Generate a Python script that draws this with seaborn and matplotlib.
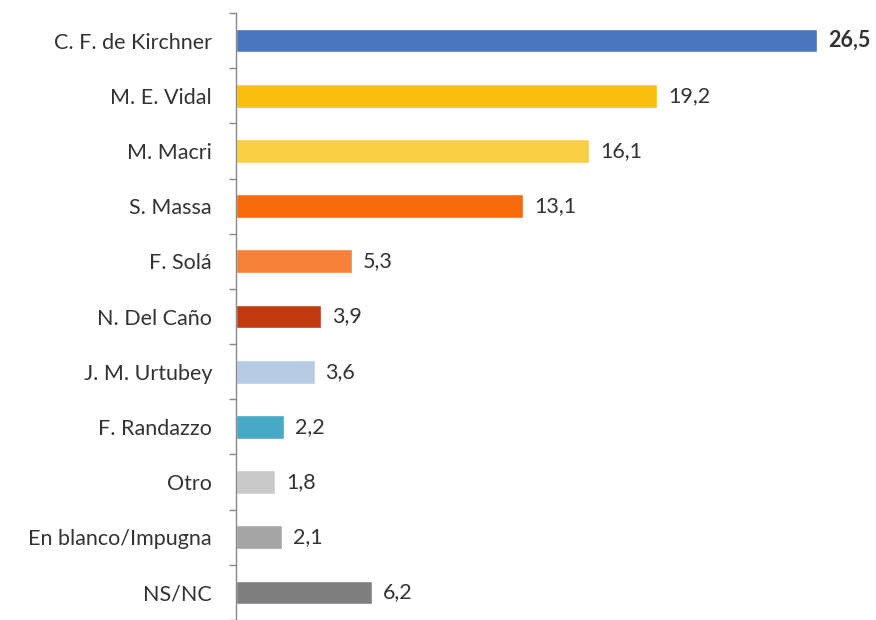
import numpy as np
import pandas as pd
import matplotlib.pyplot as plt
import seaborn as sns

candidatos = ['C. F. de Kirchner', 'M. E. Vidal', 'M. Macri', 'S. Massa', 'F. Solá',
              'N. Del Caño', 'J. M. Urtubey', 'F. Randazzo', 'Otro',
              'En blanco/Impugna', 'NS/NC']
porcentajes = [26.5, 19.2, 16.1, 13.1, 5.3, 3.9, 3.6, 2.2, 1.8, 2.1, 6.2]
colores = ['#4a76bd', '#f8bf0e', '#fbcf44', '#f76a0c', '#f6823a', '#c23a10',
           '#b7cbe5', '#48a9c6', '#c9c9c9', '#a5a5a5', '#7f7f7f']

df = pd.DataFrame({'candidato': candidatos, 'pct': porcentajes})

sns.set_style('white')
plt.rcParams['font.family'] = ['Lato', 'DejaVu Sans']

fig = plt.figure(figsize=(8.76, 6.2), dpi=100)
ax = fig.add_axes([0.269, 0.0, 0.713, 0.979])

sns.barplot(data=df, x='pct', y='candidato', hue='candidato', palette=colores,
            saturation=1, legend=False, width=0.43, ax=ax, orient='h')

ax.set_xlim(0, 28.47)
ax.set_ylim(len(candidatos) - 0.5, -0.5)
ax.set_xlabel('')
ax.set_ylabel('')
ax.set_xticks([])

# etiquetas de valor
for i, v in enumerate(porcentajes):
    txt = f'{v:.1f}'.replace('.', ',')
    ax.text(v + 0.5, i, txt, va='center', ha='left', fontsize=15.5,
            color='#333333', fontweight='bold' if i == 0 else 'normal')

# ticks entre categorias
ax.set_yticks(np.arange(len(candidatos)))
ax.set_yticklabels(candidatos, fontsize=15.5, color='#333333')
ax.set_yticks(np.arange(-0.5, len(candidatos), 1), minor=True)
ax.tick_params(axis='y', which='major', left=False, length=0, pad=17)
ax.tick_params(axis='y', which='minor', left=True, length=5, color='#888888', width=1)

for s in ['top', 'right', 'bottom']:
    ax.spines[s].set_visible(False)
ax.spines['left'].set_color('#888888')
ax.spines['left'].set_linewidth(1)

fig.savefig('out.png', dpi=100)
